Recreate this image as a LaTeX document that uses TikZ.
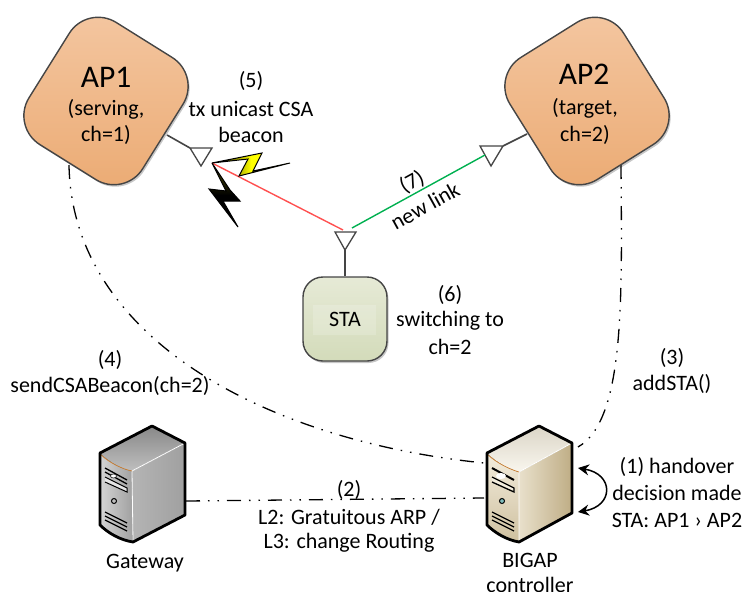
\documentclass[tikz,border=0pt]{standalone}
\usepackage{fontspec}
\setmainfont{Carlito}
\usetikzlibrary{shadows,arrows.meta}
\definecolor{edge}{HTML}{454545}
\definecolor{apA}{HTML}{F4C7A2}\definecolor{apB}{HTML}{EBAA72}
\definecolor{staA}{HTML}{E6EAD6}\definecolor{staB}{HTML}{D3DBBA}
\definecolor{grayA}{HTML}{D4D4D4}\definecolor{grayB}{HTML}{A0A0A0}
\definecolor{creamA}{HTML}{F3EDDD}\definecolor{creamB}{HTML}{BFAD85}
\definecolor{linkred}{HTML}{FF5050}\definecolor{linkgreen}{HTML}{00B050}
\tikzset{
 apbox/.style={draw=edge,line width=1.4pt,rounded corners=34pt,minimum width=134pt,minimum height=144pt,inner sep=0pt,
   top color=apA,bottom color=apB,drop shadow={shadow xshift=1.5pt,shadow yshift=-2pt,opacity=.22,fill=black}},
 stabox/.style={draw=edge,line width=1.4pt,rounded corners=20pt,minimum width=84pt,minimum height=84pt,inner sep=0pt,
   top color=staA,bottom color=staB,drop shadow={shadow xshift=1.5pt,shadow yshift=-2pt,opacity=.22,fill=black}},
 antenna/.style={draw=edge,line width=1.3pt,fill=white,line join=miter},
 stem/.style={draw=edge,line width=1.6pt},
 ctrl/.style={draw=black,line width=1.3pt,dash pattern=on 14pt off 8pt on 1.5pt off 8pt on 1.5pt off 8pt},
 lab/.style={font=\fontsize{22}{26}\selectfont,inner sep=0pt,align=center},
 bighead/.style={font=\fontsize{31.500}{36}\selectfont,inner sep=0pt},
 srvline/.style={draw=black,line width=2.8pt,line join=round},
 thinline/.style={draw=black,line width=1pt},
}
\begin{document}
\begin{tikzpicture}[x=1pt,y=-1pt]
\useasboundingbox (0,0) rectangle (745,592);

% control connectors (under the boxes)
\coordinate (ap1out) at (69,165);
\coordinate (ap2out) at (621,165);
\coordinate (gwout) at (186,501);
\coordinate (bgA) at (484,463);
\coordinate (bgB) at (484,498);
\coordinate (bgC) at (578,447);
\draw[ctrl] (ap1out) .. controls (72,335) and (260,440) .. (bgA);
\draw[ctrl] (ap2out) .. controls (622,300) and (625,420) .. (bgC);
\draw[ctrl] (gwout) -- (bgB);

% access points
\node[apbox,rotate=-32] (ap1) at (106,101) {};
\node[apbox,rotate=32] (ap2) at (587,101) {};
\node[bighead] (ap1t) at (106,77) {AP1};
\node[lab] (ap1s) at (106,109) {(serving,};
\node[lab] (ap1c) at (106,135) {ch=1)};
\node[bighead] (ap2t) at (584,74) {AP2};
\node[lab] (ap2s) at (585,108) {(target,};
\node[lab] (ap2c) at (585,135) {ch=2)};

% station
\node[stabox] (sta) at (345,319) {};
\node[fill=white,fill opacity=.18,minimum width=63pt,minimum height=30pt,inner sep=0pt] (stain) at (344.500,320) {};
\node[lab] (stat) at (345,319) {STA};

% antennas
\coordinate (a1a) at (190,148); \coordinate (a1b) at (212,148); \coordinate (a1c) at (201,166);
\coordinate (a2a) at (480,146); \coordinate (a2b) at (503,146); \coordinate (a2c) at (491,166);
\coordinate (a3a) at (335,232); \coordinate (a3b) at (356,232); \coordinate (a3c) at (345,250);
\coordinate (a1s) at (167,135); \coordinate (a2s) at (527,134);
\draw[stem] (a1s) -- (a1a);
\draw[stem] (a2s) -- (a2b);
\draw[stem] (sta.north) -- (a3c);
\draw[antenna] (a1a) -- (a1b) -- (a1c) -- cycle;
\draw[antenna] (a2a) -- (a2b) -- (a2c) -- cycle;
\draw[antenna] (a3a) -- (a3b) -- (a3c) -- cycle;

% radio links
\coordinate (bolt) at (212,163);
\coordinate (staR) at (343,230);
\coordinate (staG) at (352,228);
\coordinate (ap2G) at (485,155);
\draw[draw=linkred,line width=1.4pt] (bolt) -- (staR);
\draw[draw=linkgreen,line width=1.4pt] (staG) -- (ap2G);

% lightning bolts
\draw[thinline,left color=black,right color=yellow,middle color=yellow,line join=miter]
 (bolt) -- (262,153) -- (253,171) -- (290,163) -- (239,176) -- (248,159) -- cycle;
\draw[thinline,top color=yellow!35!black,bottom color=black,middle color=black,line join=miter]
 (bolt) -- (230,190) -- (240,201) -- (223,201) -- (238,227) -- (209,189) -- (226,191) -- cycle;

% gateway server
\node[inner sep=0pt] (gw) at (143,484) {};
\fill[left color=grayA,right color=grayB] (100,453) .. controls (110,463) and (122,469) .. (132,471) -- (133,542) .. controls (120,540) and (108,533) .. (100,525) -- cycle;
\fill[left color=grayA!85!black,right color=grayB] (132,471) -- (185,443) -- (185,515) -- (133,542) -- cycle;
\fill[top color=grayB!85!black,bottom color=grayA!90!black] (100,453) -- (152,426) -- (185,443) -- (132,471) .. controls (122,469) and (110,463) .. (100,453) -- cycle;
\draw[draw=white,line width=.8pt] (132,471) -- (185,443) (132,471) -- (133,542);
\draw[draw=orange!60!gray,line width=.7pt] (101,455) .. controls (110,463) and (122,469) .. (132,471);
\draw[srvline] (100,453) -- (152,426) -- (185,443) -- (185,515) -- (133,542) .. controls (120,540) and (108,533) .. (100,525) -- cycle;
\draw[thinline,line width=1.3pt] (105,468) -- (127,480) (105,472) -- (127,484);
\fill[white,draw=black,line width=.5pt] (113.500,476) ellipse (3pt and 2pt);
\draw[thinline,fill=grayA!60!white] (105,477) -- (127,488) -- (127,492) -- (105,482);
\draw[thinline] (114,501) circle (2.5pt);
\draw[thinline,line width=1.2pt] (105,512) -- (127,523) (105,516) -- (127,527) (105,520) -- (127,531);

% BIGAP server
\node[inner sep=0pt] (bg) at (530,484) {};
\fill[top color=creamA,bottom color=creamB!70!creamA] (487,453) .. controls (497,463) and (509,469) .. (519,472) -- (519,542) .. controls (507,540) and (495,533) .. (487,525) -- cycle;
\fill[left color=creamA!80!creamB,right color=creamB] (519,472) -- (572,443) -- (572,513) -- (519,542) -- cycle;
\fill[top color=creamA!90!black,bottom color=creamA!50!white] (487,453) -- (539,426) -- (572,443) -- (519,472) .. controls (509,469) and (497,463) .. (487,453) -- cycle;
\draw[draw=white,line width=.8pt] (519,472) -- (572,443) (519,472) -- (519,542);
\draw[draw=orange!60!gray,line width=.7pt] (488,455) .. controls (497,463) and (509,469) .. (519,472);
\draw[srvline] (487,453) -- (539,426) -- (572,443) -- (572,513) -- (519,542) .. controls (507,540) and (495,533) .. (487,525) -- cycle;
\draw[thinline,line width=2pt] (492,468) -- (514,480);
\fill[white] (501,476) ellipse (5pt and 3pt);
\draw[thinline,line width=1.3pt,fill=creamA] (492,477) -- (514,488) -- (514,492) -- (492,482);
\draw[thinline,fill=teal!50!white] (502,501) circle (2.5pt);
\draw[thinline,line width=1.2pt] (492,512) -- (514,523) (492,516) -- (514,527) (492,520) -- (514,531);

% decision loop
\coordinate (loopA) at (578,468);
\coordinate (loopB) at (578,512);
\draw[draw=black,line width=1.5pt,{Stealth[length=11pt,width=11pt]}-{Stealth[length=11pt,width=11pt]}]
 (loopA) .. controls (614,474) and (614,506) .. (loopB);

% labels
\node[lab] (l5) at (251,81) {(5)};
\node[lab] (l5a) at (251,109) {tx unicast CSA};
\node[lab] (l5b) at (251,135) {beacon};
\node[lab,rotate=29] (l7) at (412,182) {(7)};
\node[lab,rotate=29] (l7a) at (425,206) {new link};
\node[lab] (l6) at (450,295) {(6)};
\node[lab] (l6a) at (450,321) {switching to};
\node[lab] (l6b) at (450,347) {ch=2};
\node[lab] (l4) at (110,360) {(4)};
\node[lab] (l4a) at (110,386) {sendCSABeacon(ch=2)};
\node[lab] (l3) at (672,358) {(3)};
\node[lab] (l3a) at (672,384) {addSTA()};
\node[lab] (l2) at (349,490) {(2)};
\node[lab] (l2a) at (349,517) {L2: Gratuitous ARP /};
\node[lab] (l2b) at (349,543) {L3: change Routing};
\node[lab] (lgw) at (145,563) {Gateway};
\node[lab] (lbg) at (530,560) {BIGAP};
\node[lab] (lbg2) at (530,585) {controller};
\node[lab] (l1) at (677,467) {(1) handover};
\node[lab] (l1b) at (677,493) {decision made};
\node[lab] (l1c) at (677,520) {STA: AP1 › AP2};
\end{tikzpicture}
\end{document}
